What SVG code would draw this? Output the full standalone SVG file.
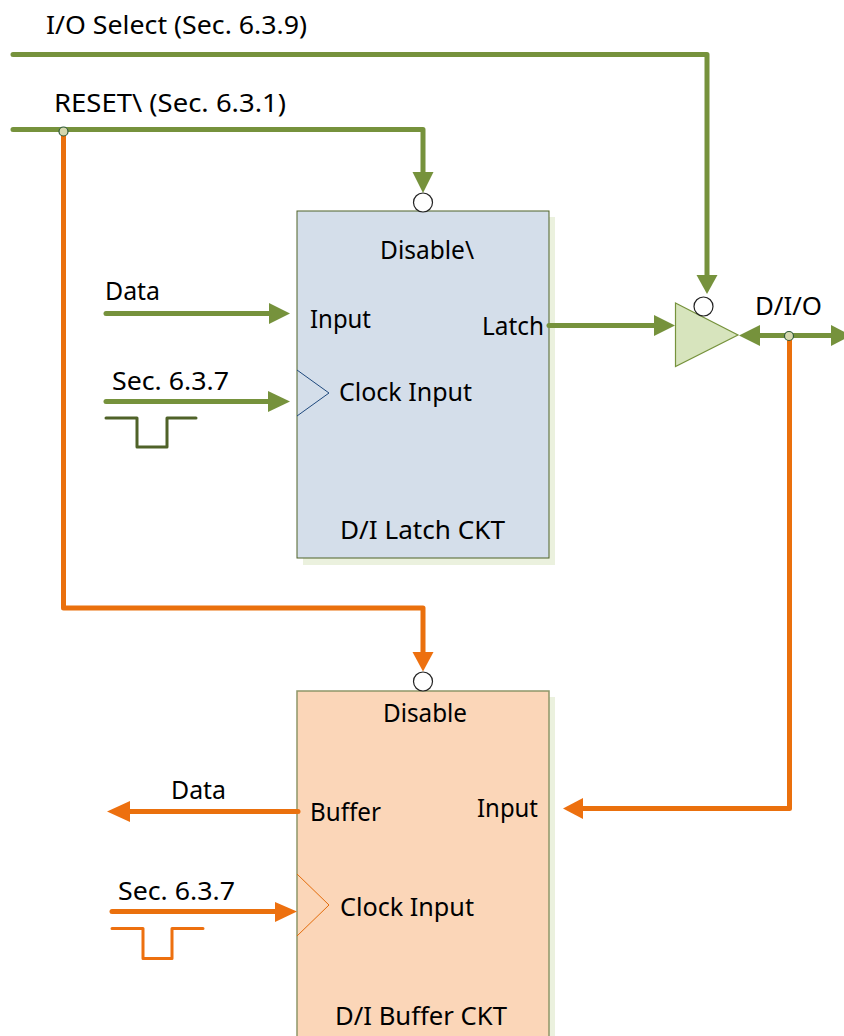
<svg xmlns="http://www.w3.org/2000/svg" width="844" height="1036" viewBox="0 0 844 1036">
<style>
text{font-family:"Noto Sans","DejaVu Sans",sans-serif;font-size:25px;fill:#000}
.g{fill:none;stroke:#76923c;stroke-width:5;stroke-linecap:round;stroke-linejoin:round}
.o{fill:none;stroke:#ea700d;stroke-width:5;stroke-linecap:round;stroke-linejoin:round}
.ga{fill:#76923c}.oa{fill:#ed700f}
.c{fill:#fff;stroke:#222;stroke-width:1.2}
.j{fill:#d5d8ae;stroke:#2f5a3a;stroke-width:1.2}
</style>
<rect width="844" height="1036" fill="#fff"/>
<g id="latch">
<rect x="303" y="217" width="252" height="348" fill="#ebf1de"/>
<rect x="297" y="211" width="252" height="347" fill="#d4deea" stroke="#4f6228" stroke-width="1"/>
<path d="M297 370L329 393L297 416" fill="none" stroke="#1f497d" stroke-width="1"/>
<text x="380" y="259" textLength="94" lengthAdjust="spacingAndGlyphs">Disable\</text>
<text x="310" y="328" textLength="61" lengthAdjust="spacingAndGlyphs">Input</text>
<text x="482" y="335" textLength="62" lengthAdjust="spacingAndGlyphs">Latch</text>
<text x="339" y="401" textLength="133" lengthAdjust="spacingAndGlyphs">Clock Input</text>
<text x="340" y="539" textLength="165" lengthAdjust="spacingAndGlyphs">D/I Latch CKT</text>
</g>
<g id="buffer">
<rect x="303" y="697" width="252" height="345" fill="#ebf1de"/>
<rect x="297" y="691" width="252" height="350" fill="#fbd6b8" stroke="#8f9668" stroke-width="1.5"/>
<path d="M297 874L329 905L297 936" fill="none" stroke="#e36c0a" stroke-width="1"/>
<text x="383" y="722" textLength="84" lengthAdjust="spacingAndGlyphs">Disable</text>
<text x="310" y="821" textLength="71" lengthAdjust="spacingAndGlyphs">Buffer</text>
<text x="477" y="817" textLength="61" lengthAdjust="spacingAndGlyphs">Input</text>
<text x="340" y="916" textLength="134" lengthAdjust="spacingAndGlyphs">Clock Input</text>
<text x="335" y="1025" textLength="172" lengthAdjust="spacingAndGlyphs">D/I Buffer CKT</text>
</g>
<g id="tristate">
<path d="M675.500 303L738 335L675.500 366.500Z" fill="#d7e4bd" stroke="#76923c" stroke-width="1.2"/>
<circle class="c" cx="703.500" cy="306.500" r="9.500"/>
</g>
<g id="latch-disable"><circle class="c" cx="423" cy="202.500" r="9.500"/></g>
<g id="buffer-disable"><circle class="c" cx="423" cy="681.500" r="9.500"/></g>
<g id="connectors">
<path class="g" d="M13 54.500H707V276"/><path class="ga" d="M696.500 275H717.500L707 294Z"/>
<path class="o" d="M63.500 131V608H423V655"/><path class="oa" d="M412.500 652H433.500L423 671.500Z"/>
<path class="g" d="M13 129.500H423V175"/><path class="ga" d="M412.500 172H433.500L423 193Z"/>
<path class="g" d="M106 313.500H272"/><path class="ga" d="M269 303V324L290 313.500Z"/>
<path class="g" d="M106 401.500H270"/><path class="ga" d="M268 391V412L290 401.500Z"/>
<path d="M106 418H137V447H167V418H196" fill="none" stroke="#4f6228" stroke-width="3" stroke-linecap="round" stroke-linejoin="round"/>
<path class="g" d="M549 325.500H656"/><path class="ga" d="M654 315V336L675 325.500Z"/>
<path class="o" d="M789.500 336V808.500H582"/><path class="oa" d="M583 798V819L563 808.500Z"/>
<path class="g" d="M758 335.500H833"/><path class="ga" d="M760 325V346L739 335.500Z"/><path class="ga" d="M831 325V346L851 335.500Z"/>
<path class="o" d="M298 811.500H128"/><path class="oa" d="M130 801V822L107 811.500Z"/>
<path class="o" d="M112 911.500H278"/><path class="oa" d="M275 902V922L297 911.500Z"/>
<path d="M112 928.500H143V958.500H172V928.500H203" fill="none" stroke="#ed700f" stroke-width="3" stroke-linecap="round" stroke-linejoin="round"/>
<circle class="j" cx="63.500" cy="131.500" r="4.500"/>
<circle class="j" cx="789" cy="336" r="4.500"/>
</g>
<g id="labels">
<text x="46" y="34" textLength="261" lengthAdjust="spacingAndGlyphs">I/O Select (Sec. 6.3.9)</text>
<text x="54" y="112" textLength="232" lengthAdjust="spacingAndGlyphs">RESET\ (Sec. 6.3.1)</text>
<text x="105" y="300" textLength="55" lengthAdjust="spacingAndGlyphs">Data</text>
<text x="112" y="390" textLength="117" lengthAdjust="spacingAndGlyphs">Sec. 6.3.7</text>
<text x="755" y="315" textLength="67" lengthAdjust="spacingAndGlyphs">D/I/O</text>
<text x="171" y="799" textLength="55" lengthAdjust="spacingAndGlyphs">Data</text>
<text x="118" y="900" textLength="117" lengthAdjust="spacingAndGlyphs">Sec. 6.3.7</text>
</g>
</svg>
